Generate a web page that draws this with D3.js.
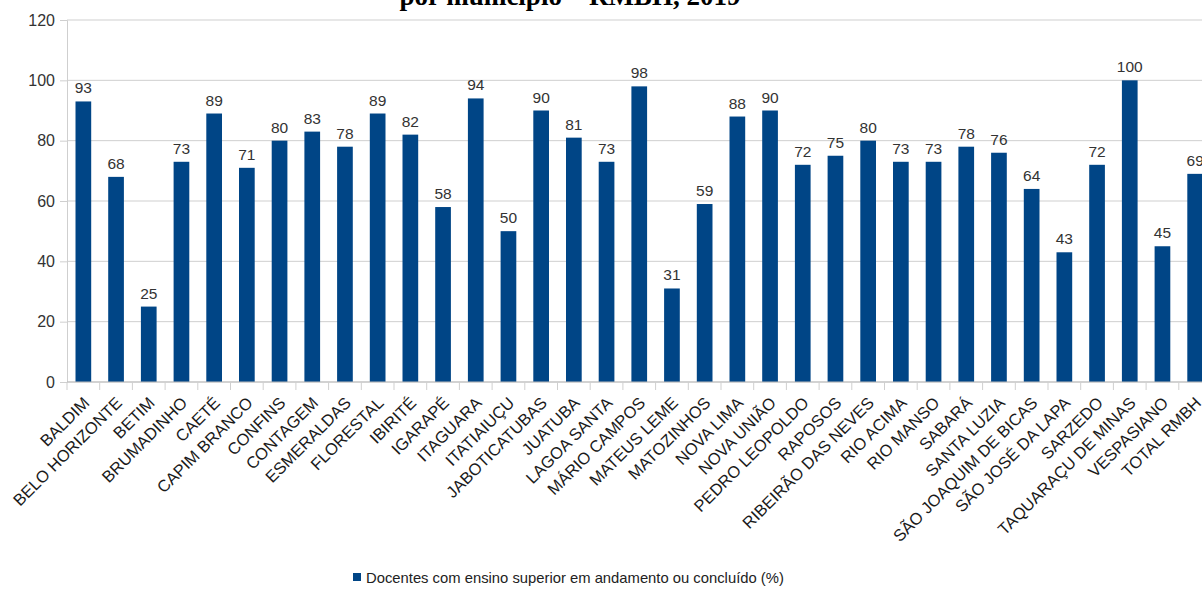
<!DOCTYPE html>
<html>
<head>
<meta charset="utf-8">
<script src="https://cdn.jsdelivr.net/npm/d3@7"></script>
<style>
  html, body { margin: 0; padding: 0; background: #fff; }
  svg { display: block; }
</style>
</head>
<body>
<svg id="chart" width="1202" height="596"></svg>
<script>
// Municipalities of the RMBH and the regional total
const municipios = [
  "BALDIM", "BELO HORIZONTE", "BETIM", "BRUMADINHO", "CAETÉ", "CAPIM BRANCO",
  "CONFINS", "CONTAGEM", "ESMERALDAS", "FLORESTAL", "IBIRITÉ", "IGARAPÉ",
  "ITAGUARA", "ITATIAIUÇU", "JABOTICATUBAS", "JUATUBA", "LAGOA SANTA",
  "MÁRIO CAMPOS", "MATEUS LEME", "MATOZINHOS", "NOVA LIMA", "NOVA UNIÃO",
  "PEDRO LEOPOLDO", "RAPOSOS", "RIBEIRÃO DAS NEVES", "RIO ACIMA", "RIO MANSO",
  "SABARÁ", "SANTA LUZIA", "SÃO JOAQUIM DE BICAS", "SÃO JOSÉ DA LAPA",
  "SARZEDO", "TAQUARAÇU DE MINAS", "VESPASIANO", "TOTAL RMBH"
];

// Teachers with higher education in progress or completed (%)
const docentesSuperior = [
  93, 68, 25, 73, 89, 71,
  80, 83, 78, 89, 82, 58,
  94, 50, 90, 81, 73,
  98, 31, 59, 88, 90,
  72, 75, 80, 73, 73,
  78, 76, 64, 43,
  72, 100, 45, 69
];

const yTicks = [0, 20, 40, 60, 80, 100, 120];
const titulo = "por município – RMBH, 2019";
const legenda = "Docentes com ensino superior em andamento ou concluído (%)";

(function () {
  const svg = d3.select("#chart");
  const W = 1202, H = 596;
  svg.append("rect").attr("width", W).attr("height", H).attr("fill", "#fff");

  const plotLeft = 67, plotTop = 20, plotBottom = 382;
  const step = 32.7;
  const plotRight = plotLeft + step * municipios.length;

  const x = d3.scaleBand()
    .domain(municipios)
    .range([plotLeft, plotRight])
    .paddingInner(0.52)
    .paddingOuter(0.26);

  const y = d3.scaleLinear().domain([0, 120]).range([plotBottom, plotTop]);

  // Title (last line, running off the top of the page)
  svg.append("text")
    .attr("x", 570).attr("y", 5)
    .attr("text-anchor", "middle")
    .attr("font-family", "Liberation Serif, Times New Roman, serif")
    .attr("font-weight", "bold")
    .attr("font-size", 27)
    .attr("fill", "#000")
    .text(titulo);

  // Horizontal gridlines
  svg.append("g")
    .selectAll("line")
    .data(yTicks)
    .join("line")
    .attr("x1", plotLeft).attr("x2", plotRight)
    .attr("y1", d => y(d)).attr("y2", d => y(d))
    .attr("stroke", "#cfcfcf")
    .attr("stroke-width", 1);

  // Y axis
  const yAxis = svg.append("g")
    .attr("transform", `translate(${plotLeft},0)`)
    .call(d3.axisLeft(y).tickValues(yTicks).tickSize(7).tickPadding(5));
  yAxis.select(".domain").attr("stroke", "#cfcfcf");
  yAxis.selectAll(".tick line").attr("stroke", "#cfcfcf");
  yAxis.selectAll(".tick text")
    .attr("font-family", "Liberation Sans, Arial, sans-serif")
    .attr("font-size", 16)
    .attr("fill", "#333");

  // Bars
  svg.append("g")
    .selectAll("rect")
    .data(municipios)
    .join("rect")
    .attr("x", d => x(d))
    .attr("y", (d, i) => y(docentesSuperior[i]))
    .attr("width", x.bandwidth())
    .attr("height", (d, i) => y(0) - y(docentesSuperior[i]))
    .attr("fill", "#004586");

  // Value labels
  svg.append("g")
    .selectAll("text")
    .data(municipios)
    .join("text")
    .attr("x", d => x(d) + x.bandwidth() / 2)
    .attr("y", (d, i) => y(docentesSuperior[i]) - 8)
    .attr("text-anchor", "middle")
    .attr("font-family", "Liberation Sans, Arial, sans-serif")
    .attr("font-size", 15.5)
    .attr("fill", "#333")
    .text((d, i) => docentesSuperior[i]);

  // X axis baseline and category boundary ticks
  svg.append("line")
    .attr("x1", plotLeft).attr("x2", plotRight)
    .attr("y1", plotBottom).attr("y2", plotBottom)
    .attr("stroke", "#bdbdbd");
  svg.append("g")
    .selectAll("line")
    .data(d3.range(municipios.length + 1))
    .join("line")
    .attr("x1", i => plotLeft + i * x.step())
    .attr("x2", i => plotLeft + i * x.step())
    .attr("y1", plotBottom).attr("y2", plotBottom + 8)
    .attr("stroke", "#cfcfcf");

  // Rotated category labels
  svg.append("g")
    .selectAll("text")
    .data(municipios)
    .join("text")
    .attr("transform", d => `translate(${x(d) + x.bandwidth() / 2 + 7},${plotBottom + 22}) rotate(-45)`)
    .attr("text-anchor", "end")
    .attr("font-family", "Liberation Sans, Arial, sans-serif")
    .attr("font-size", 16.5)
    .attr("fill", "#1a1a1a")
    .text(d => d);

  // Legend
  const lg = svg.append("g");
  lg.append("rect")
    .attr("x", 353).attr("y", 573)
    .attr("width", 8).attr("height", 8)
    .attr("fill", "#004586");
  lg.append("text")
    .attr("x", 366).attr("y", 583)
    .attr("font-family", "Liberation Sans, Arial, sans-serif")
    .attr("font-size", 14.8)
    .attr("fill", "#222")
    .text(legenda);
})();
</script>
</body>
</html>
